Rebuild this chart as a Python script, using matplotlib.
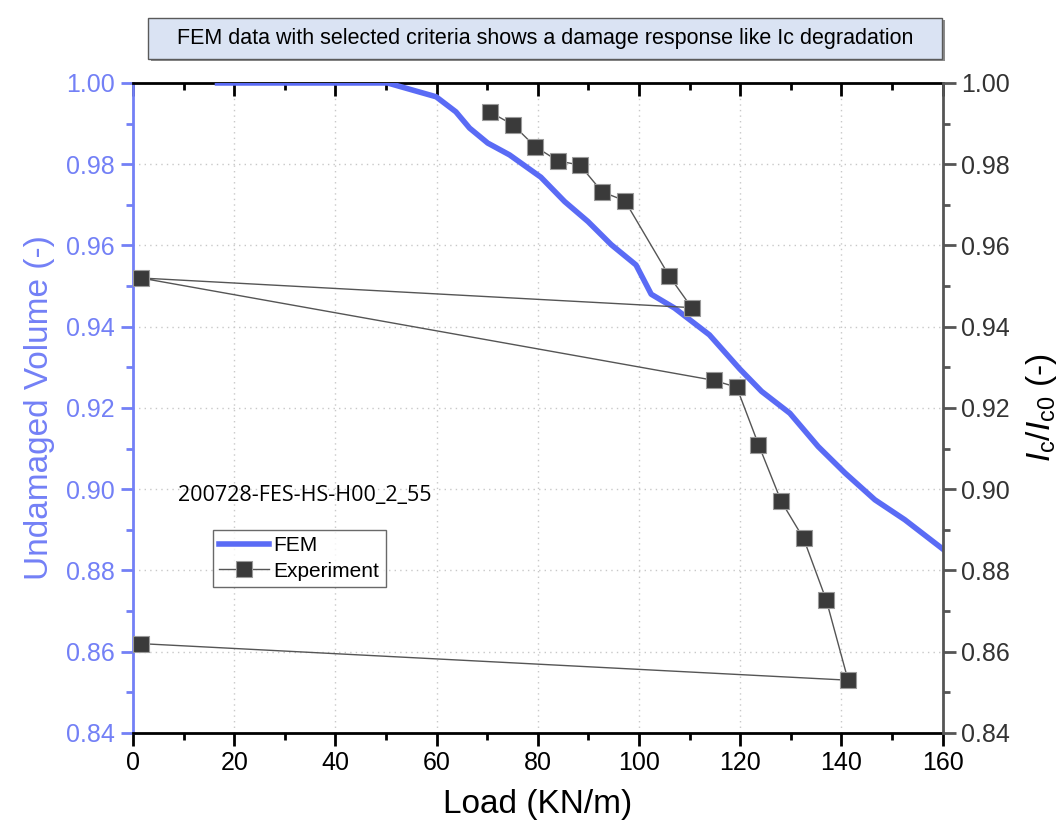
import matplotlib
matplotlib.use("Agg")
import matplotlib.pyplot as plt
from matplotlib.patches import Rectangle
from matplotlib.ticker import MultipleLocator, FormatStrFormatter

plt.rcParams["font.family"] = ["Liberation Sans", "DejaVu Sans"]
plt.rcParams["mathtext.fontset"] = "custom"
plt.rcParams["mathtext.rm"] = "Liberation Sans"
plt.rcParams["mathtext.it"] = "Liberation Sans:italic"

# FEM: undamaged volume fraction vs load
fem_load = [16.7, 30, 50.3, 59.9, 63.8, 66.5, 70.1, 74.4, 80.6, 85.3, 89.9, 94.5,
            99.4, 102.4, 107.0, 113.9, 119.9, 124.2, 129.8, 135.4, 140.7, 146.6,
            152.5, 160.0]
fem_volume = [1.000, 1.000, 1.000, 0.9966, 0.9929, 0.9889, 0.9852, 0.9823, 0.9768,
              0.9708, 0.9659, 0.9602, 0.9552, 0.9480, 0.9446, 0.9380, 0.9296,
              0.9241, 0.9187, 0.9105, 0.9040, 0.8974, 0.8925, 0.8853]

# Experiment: normalised critical current, in measurement order
exp_load = [70.6, 75.1, 79.5, 84.0, 88.3, 92.7, 97.2, 106.0, 110.4, 1.5,
            114.8, 119.3, 123.6, 128.1, 132.5, 137.0, 141.3, 1.5]
exp_ic = [0.9928, 0.9897, 0.9843, 0.9808, 0.9798, 0.9732, 0.9710, 0.9524, 0.9447,
          0.952, 0.9268, 0.9251, 0.9110, 0.8970, 0.8879, 0.8727, 0.8530, 0.862]

blue = "#5a6bf5"
label_blue = "#7380f6"

fig = plt.figure(figsize=(10.64, 8.38), dpi=100)
ax = fig.add_axes([0.125, 0.1253, 0.761, 0.7757])
ax2 = ax.twinx()

l1, = ax.plot(fem_load, fem_volume, color=blue, lw=4, solid_joinstyle="round",
              label="FEM", zorder=3)
l2, = ax2.plot(exp_load, exp_ic, color="#555555", lw=1, marker="s", ms=11,
               mfc="#3a3a3a", mec="#9a9a9a", mew=0.8, label="Experiment")

for a in (ax, ax2):
    a.set_xlim(0, 160)
    a.set_ylim(0.84, 1.00)
    a.yaxis.set_major_locator(MultipleLocator(0.02))
    a.yaxis.set_minor_locator(MultipleLocator(0.01))
    a.yaxis.set_major_formatter(FormatStrFormatter("%.2f"))
ax.xaxis.set_major_locator(MultipleLocator(20))
ax.xaxis.set_minor_locator(MultipleLocator(10))

ax.grid(True, which="major", color="#c8c8c8", ls=(0, (1, 3)), lw=1)
ax.set_axisbelow(True)

ax.tick_params(axis="x", which="major", length=9, width=2, labelsize=18,
               top=True, direction="out", pad=4)
ax.tick_params(axis="x", which="minor", length=5, width=2, top=True, direction="out")
ax.tick_params(axis="y", which="major", length=9, width=2, labelsize=18,
               colors=label_blue, direction="out", pad=4)
ax.tick_params(axis="y", which="minor", length=5, width=2, colors=label_blue,
               direction="out")
ax2.tick_params(axis="y", which="major", length=9, width=2, labelsize=18,
                colors="#555555", labelcolor="#333333", direction="out", pad=4)
ax2.tick_params(axis="y", which="minor", length=5, width=2, colors="#555555",
                direction="out")
# top ticks point into the plot
for t in ax.xaxis.get_major_ticks() + ax.xaxis.get_minor_ticks():
    t.tick2line.set_marker(matplotlib.lines.TICKDOWN)

ax.spines["left"].set_color(label_blue)
ax.spines["left"].set_linewidth(2)
ax.spines["bottom"].set_linewidth(2)
ax.spines["top"].set_linewidth(2)
ax2.spines["right"].set_color("#555555")
ax2.spines["right"].set_linewidth(2)
for s in ("left", "top", "bottom"):
    ax2.spines[s].set_visible(False)
ax.spines["right"].set_visible(False)

ax.set_xlabel("Load (KN/m)", fontsize=24, labelpad=10)
ax.set_ylabel("Undamaged Volume (-)", fontsize=24, color=label_blue, labelpad=8)
ax2.set_ylabel(r"$I_{\mathrm{c}}/I_{\mathrm{c0}}$ (-)", fontsize=24, labelpad=10)

ax.text(0.055, 0.365, "200728-FES-HS-H00_2_55", transform=ax.transAxes,
        fontsize=15.5, family=["Open Sans", "DejaVu Sans"], va="center")

leg = ax.legend([l1, l2], ["FEM", "Experiment"], loc="upper left",
                bbox_to_anchor=(0.099, 0.312), fontsize=15, frameon=True,
                fancybox=False, handlelength=2.4, borderpad=0.3,
                labelspacing=0.3, handletextpad=0.2, borderaxespad=0)
leg.get_frame().set_edgecolor("#444444")
leg.get_frame().set_linewidth(1)

# title box with drop shadow
fig.patches.append(Rectangle((0.142, 0.927), 0.746, 0.049, transform=fig.transFigure,
                             facecolor="#8c8c8c", edgecolor="none", zorder=1))
fig.patches.append(Rectangle((0.139, 0.930), 0.746, 0.049, transform=fig.transFigure,
                             facecolor="#dae3f3", edgecolor="#5a5a5a", lw=1, zorder=2))
fig.text(0.512, 0.9545, "FEM data with selected criteria shows a damage response like Ic degradation",
         ha="center", va="center", fontsize=15.5,
         family=["Liberation Sans Narrow", "Liberation Sans", "DejaVu Sans"], zorder=3)

fig.savefig("out.png", dpi=100)
